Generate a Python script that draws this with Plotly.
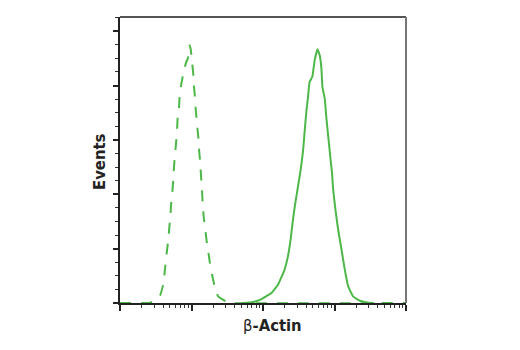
import numpy as np
import plotly.graph_objects as go

# ---- data (log10 fluorescence intensity, event counts) ----
isotype_log10_intensity = [1.00, 1.40, 1.455, 1.563, 1.606, 1.624, 1.658, 1.676, 1.690, 1.704, 1.714,
                           1.728, 1.742, 1.751, 1.761, 1.775, 1.789, 1.799, 1.807, 1.827, 1.835,
                           1.859, 1.892, 1.925, 1.950, 1.975, 1.990, 2.010, 2.024, 2.032, 2.046,
                           2.056, 2.070, 2.085, 2.099, 2.108, 2.123, 2.131, 2.141, 2.151, 2.159,
                           2.173, 2.193, 2.211, 2.235, 2.258, 2.286, 2.320, 2.370, 2.489, 2.56, 5.00]
isotype_events = [0, 0, 1.2, 7.4, 17.5, 27.9, 48.7, 58.5, 69.6, 79.3, 90.1,
                  99.3, 110, 120.7, 130.5, 140.6, 150.7, 160.6, 171.2, 181.3, 191.8,
                  201.9, 213.2, 221.2, 225.0, 237.1, 233.0, 220.3, 211.1, 200.4, 191.2,
                  180.4, 170.3, 159.6, 149.8, 139.1, 128.9, 119.2, 108.5, 98.3, 88.5,
                  77.8, 67.7, 57.3, 47.2, 36.5, 26.7, 16.5, 6.4, 1.2, 0, 0]

actin_log10_intensity = [2.70, 2.785, 2.877, 2.972, 3.113, 3.207, 3.300, 3.348, 3.385, 3.418,
                         3.451, 3.489, 3.525, 3.559, 3.582, 3.606, 3.630, 3.652, 3.690, 3.723,
                         3.761, 3.793, 3.817, 3.831, 3.863, 3.887, 3.920, 3.948, 3.965, 3.982,
                         4.014, 4.052, 4.099, 4.145, 4.193, 4.263, 4.356, 4.475, 4.55]
actin_events = [0, 0.3, 1.2, 3.4, 8.9, 16.5, 30.3, 42.6, 57.9, 76.3,
                91.6, 106.9, 121.8, 139.1, 157.4, 175.8, 189.6, 203.4, 208.0, 223.3,
                233.4, 227.9, 215.7, 198.8, 188.1, 169.8, 148.3, 129.9, 119.9, 103.9,
                85.5, 67.1, 48.7, 30.3, 15.0, 5.8, 2.1, 0.3, 0]

x_decades = [10, 100, 1000, 10000, 100000]
y_major = [0, 50, 100, 150, 200, 250]

x_title_symbol = "β"
x_title_rest = "-Actin"
y_title = "Events"

GREEN = "#4cb848"
FONT = "Liberation Sans Narrow, DejaVu Sans Condensed, Arial Narrow, sans-serif"

x_minor = [d * k for d in x_decades[:-1] for k in range(2, 10)]
y_minor = [v + s for v in y_major for s in (12.5, 25, 37.5)]

fig = go.Figure()
fig.add_trace(go.Scatter(x=10 ** np.array(isotype_log10_intensity), y=isotype_events,
                         mode="lines", line=dict(color=GREEN, width=2, dash="11px,10px", shape="spline", smoothing=0.3),
                         showlegend=False, hoverinfo="skip"))
fig.add_trace(go.Scatter(x=10 ** np.array(actin_log10_intensity), y=actin_events,
                         mode="lines", line=dict(color=GREEN, width=2, shape="spline", smoothing=0.3),
                         showlegend=False, hoverinfo="skip"))

fig.update_layout(
    width=520, height=350,
    margin=dict(l=120, r=114, t=17, b=47),
    plot_bgcolor="white", paper_bgcolor="white",
    xaxis=dict(type="log", range=[1, 5], tickmode="array", tickvals=x_decades, showgrid=False, zeroline=False,
               showline=True, linecolor="#222", linewidth=1.5, layer="below traces",
               ticks="outside", ticklen=6, tickwidth=1.5, tickcolor="#222", showticklabels=False,
               minor=dict(ticks="outside", ticklen=3, tickwidth=1, tickcolor="#333",
                          tickmode="array", tickvals=x_minor, showgrid=False)),
    yaxis=dict(range=[0, 263], tickmode="array", tickvals=y_major, showgrid=False, zeroline=False,
               showline=True, linecolor="#222", linewidth=1.5,
               ticks="outside", ticklen=5, tickwidth=1.5, tickcolor="#222", showticklabels=False,
               minor=dict(ticks="outside", ticklen=3, tickwidth=1, tickcolor="#333",
                          tickmode="array", tickvals=y_minor, showgrid=False)),
    shapes=[
        dict(type="line", xref="paper", yref="paper", x0=0, x1=1, y0=1, y1=1,
             line=dict(color="#555", width=2)),
        dict(type="line", xref="paper", yref="paper", x0=1, x1=1, y0=0, y1=1,
             line=dict(color="#777", width=2)),
    ],
    annotations=[
        dict(text=f"<span style='font-weight:normal'>{x_title_symbol}</span>{x_title_rest}",
             xref="paper", yref="paper",
             x=(272 - 120) / 286, y=-(325 - 303) / 286, xanchor="center", yanchor="middle",
             showarrow=False, font=dict(family=FONT, size=16.5, color="#222", weight="bold")),
        dict(text=y_title, xref="paper", yref="paper",
             x=(99 - 120) / 286, y=(303 - 162) / 286, xanchor="center", yanchor="middle",
             textangle=-90, showarrow=False, font=dict(family=FONT, size=16.5, color="#222", weight="bold")),
    ],
)

fig.write_html("out.html")
